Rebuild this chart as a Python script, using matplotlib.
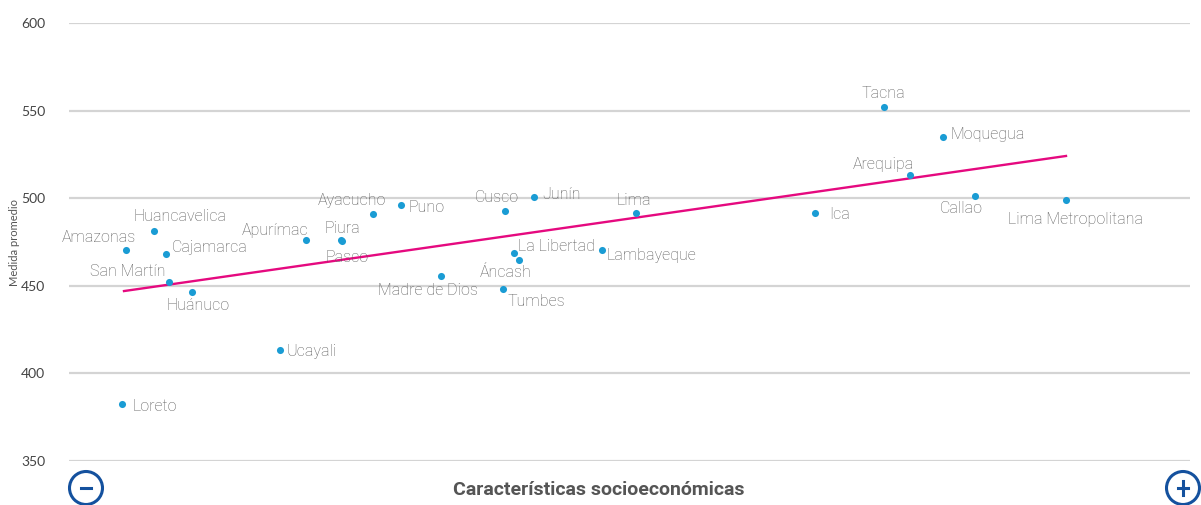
import matplotlib
matplotlib.use("Agg")
import matplotlib.pyplot as plt
from matplotlib.patches import Ellipse
from matplotlib.lines import Line2D

# ---- data (x: arbitrary socioeconomic index, y: average score) ----
regions = ["Loreto", "Amazonas", "Huancavelica", "Cajamarca", "San Martín", "Huánuco",
           "Ucayali", "Apurímac", "Piura", "Pasco", "Ayacucho", "Puno", "Madre de Dios",
           "Cusco", "Junín", "La Libertad", "Áncash", "Tumbes", "Lambayeque", "Lima",
           "Ica", "Tacna", "Arequipa", "Moquegua", "Callao", "Lima Metropolitana"]
x_index = [5.3, 5.7, 8.5, 9.7, 10.0, 12.3, 21.1, 23.7, 27.2, 27.3, 30.4, 33.2, 37.2,
           43.6, 46.5, 44.5, 45.0, 43.4, 53.3, 56.7, 74.6, 81.5, 84.1, 87.4, 90.6, 99.7]
y_score = [382.5, 470.4, 481.3, 468.2, 452.2, 446.5, 413.4, 476.1, 476.1, 475.8, 491.0,
           496.1, 455.6, 492.7, 500.7, 468.7, 464.7, 448.2, 470.4, 491.6, 491.6, 552.1,
           513.2, 534.9, 501.3, 499.0]
trend_x = [5.5, 99.7]
trend_y = [447.0, 524.1]
y_ticks = [350, 400, 450, 500, 550, 600]

# label placement: (dx px, dy px, ha)
label_pos = {
    "Loreto": (11, -2, "left"), "Amazonas": (10, 13, "right"),
    "Huancavelica": (26, 14, "center"), "Cajamarca": (6, 6, "left"),
    "San Martín": (-3, 10, "right"), "Huánuco": (6, -14, "center"),
    "Ucayali": (7, -2, "left"), "Apurímac": (2, 10, "right"),
    "Piura": (1, 12, "center"), "Pasco": (5, -17, "center"),
    "Ayacucho": (-21, 13, "center"), "Puno": (8, -2, "left"),
    "Madre de Dios": (-13, -15, "center"), "Cusco": (-8, 13, "center"),
    "Junín": (8, 2, "left"), "La Libertad": (4, 7, "left"),
    "Áncash": (-13, -12, "center"), "Tumbes": (5, -13, "left"),
    "Lambayeque": (5, -5, "left"), "Lima": (-2, 12, "center"),
    "Ica": (14, -2, "left"), "Tacna": (-1, 13, "center"),
    "Arequipa": (-27, 11, "center"), "Moquegua": (7, 3, "left"),
    "Callao": (-14, -13, "center"), "Lima Metropolitana": (9, -20, "center"),
}

fig = plt.figure(figsize=(12.01, 5.05), dpi=100)
ax = fig.add_axes([69 / 1201, 1 - 461 / 505, 1121 / 1201, 438 / 505])
ax.set_xlim(0, 112.1)
ax.set_ylim(350, 600)
ax.set_yticks(y_ticks)
ax.set_xticks([])
for s in ax.spines.values():
    s.set_visible(False)
ax.grid(axis="y", color="#d4d4d4", lw=1.6)
ax.set_axisbelow(True)
ax.tick_params(axis="y", length=0, pad=17, labelsize=10, labelcolor="#444444")
for t in ax.get_yticklabels():
    t.set_fontfamily("Lato")

ax.plot(trend_x, trend_y, color="#e5097f", lw=1.7, zorder=2)
ax.scatter(x_index, y_score, s=26, color="#1a9cd4", zorder=3, linewidths=0)

for name, xv, yv in zip(regions, x_index, y_score):
    dx, dy, ha = label_pos[name]
    ax.annotate(name, (xv, yv), xytext=(dx, dy), textcoords="offset pixels",
                ha=ha, va="center", fontsize=11.5, color="#5c5c5c",
                family="Roboto", fontweight="light", zorder=4)

fig.text(15 / 1201, 1 - 242 / 505, "Medida promedio", rotation=90, ha="center",
         va="center", fontsize=8, color="#555555", family="Lato")
fig.text(599 / 1201, 1 - 490 / 505, "Características socioeconómicas", ha="center",
         va="center", fontsize=14, color="#555555", family="Roboto", fontweight="bold")

# zoom buttons
for cx, sign in [(86, "-"), (1183, "+")]:
    fig.add_artist(Ellipse((cx / 1201, 1 - 488 / 505), 33 / 1201, 33 / 505,
                           transform=fig.transFigure, fill=False,
                           edgecolor="#14519e", lw=2.2))
    fig.add_artist(Line2D([(cx - 5) / 1201, (cx + 5) / 1201],
                          [1 - 488 / 505, 1 - 488 / 505],
                          transform=fig.transFigure, color="#14519e", lw=2.2))
    if sign == "+":
        fig.add_artist(Line2D([cx / 1201, cx / 1201],
                              [1 - 481 / 505, 1 - 495 / 505],
                              transform=fig.transFigure, color="#14519e", lw=2.2))

fig.savefig("out.png", dpi=100)
